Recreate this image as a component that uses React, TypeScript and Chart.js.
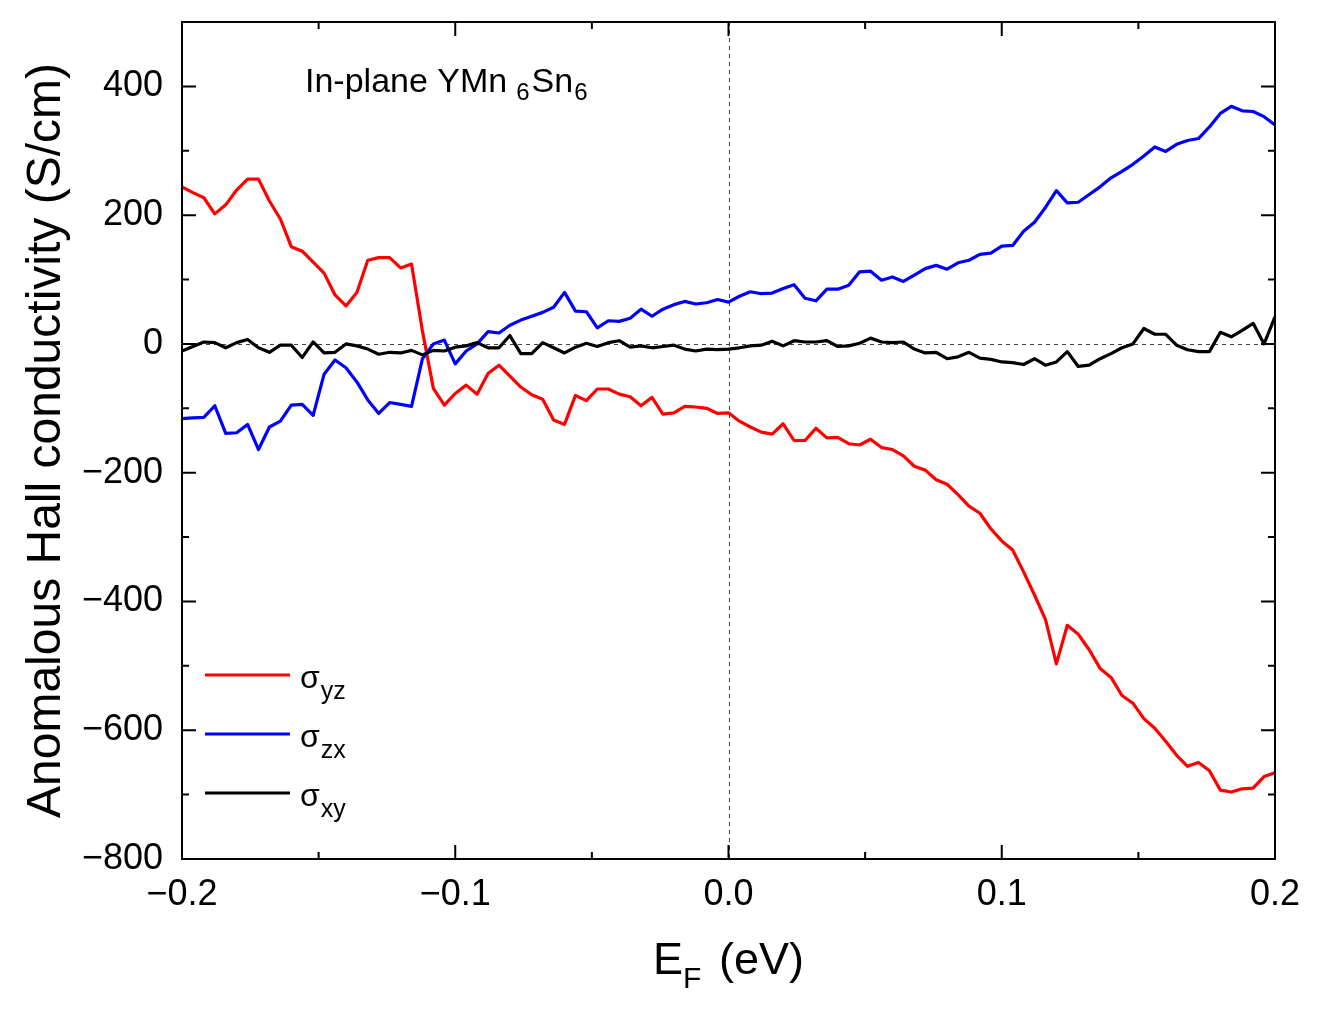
import React, { useEffect, useRef } from "react";
import { Chart, registerables } from "chart.js";

Chart.register(...registerables);

const FONT = "'Liberation Sans', Arial, Helvetica, sans-serif";

// Fermi energy grid (eV)
const energies = [
  -0.2, -0.196, -0.192, -0.188, -0.184, -0.18, -0.176, -0.172, -0.168, -0.164,
  -0.16, -0.156, -0.152, -0.148, -0.144, -0.14, -0.136, -0.132, -0.128, -0.124,
  -0.12, -0.116, -0.112, -0.108, -0.104, -0.1, -0.096, -0.092, -0.088, -0.084,
  -0.08, -0.076, -0.072, -0.068, -0.064, -0.06, -0.056, -0.052, -0.048, -0.044,
  -0.04, -0.036, -0.032, -0.028, -0.024, -0.02, -0.016, -0.012, -0.008, -0.004,
  0.0, 0.004, 0.008, 0.012, 0.016, 0.02, 0.024, 0.028, 0.032, 0.036,
  0.04, 0.044, 0.048, 0.052, 0.056, 0.06, 0.064, 0.068, 0.072, 0.076,
  0.08, 0.084, 0.088, 0.092, 0.096, 0.1, 0.104, 0.108, 0.112, 0.116,
  0.12, 0.124, 0.128, 0.132, 0.136, 0.14, 0.144, 0.148, 0.152, 0.156,
  0.16, 0.164, 0.168, 0.172, 0.176, 0.18, 0.184, 0.188, 0.192, 0.196,
  0.2,
];

// sigma_yz (S/cm)
const sigmaYZ = [
  244, 235, 227, 202, 216, 239, 256, 256, 222, 194,
  151, 144, 127, 110, 76, 59, 80, 130, 134, 134,
  118, 124, 20, -69, -95, -77, -64, -78, -46, -33,
  -50, -67, -79, -86, -118, -125, -80, -88, -70, -70,
  -78, -82, -96, -83, -109, -107, -97, -98, -100, -108,
  -107, -120, -129, -137, -140, -124, -150, -150, -131, -146,
  -145, -155, -157, -148, -161, -164, -174, -190, -196, -211,
  -218, -234, -252, -263, -287, -306, -320, -354, -390, -428,
  -497, -437, -451, -475, -504, -518, -546, -558, -582, -597,
  -617, -639, -656, -650, -663, -693, -696, -691, -690, -672,
  -666,
];

// sigma_zx (S/cm)
const sigmaZX = [
  -116, -115, -114, -96, -139, -138, -125, -164, -129, -120,
  -95, -94, -111, -47, -25, -37, -59, -87, -108, -91,
  -94, -97, -23, 0, 6, -31, -11, 0, 19, 17,
  29, 37, 43, 49, 57, 80, 51, 50, 25, 36,
  35, 40, 54, 43, 54, 61, 66, 62, 64, 69,
  65, 74, 81, 78, 79, 86, 92, 71, 67, 85,
  85, 91, 112, 113, 99, 104, 97, 107, 117, 122,
  116, 126, 130, 139, 141, 152, 153, 175, 189, 212,
  238, 219, 220, 232, 244, 258, 268, 279, 292, 306,
  299, 310, 316, 319, 337, 358, 369, 362, 361, 353,
  340,
];

// sigma_xy (S/cm)
const sigmaXY = [
  -11, -4, 3, 2, -6, 2, 7, -6, -13, -2,
  -2, -21, 3, -14, -13, 0, -3, -8, -16, -13,
  -14, -10, -17, -10, -11, -5, -3, 2, -6, -6,
  13, -15, -15, 2, -6, -14, -5, 1, -4, 2,
  5, -5, -3, -6, -4, -2, -8, -11, -8, -9,
  -8, -6, -3, -2, 4, -3, 5, 3, 3, 5,
  -4, -3, 1, 9, 3, 2, 3, -8, -14, -13,
  -23, -20, -13, -22, -24, -28, -29, -32, -23, -33,
  -28, -12, -35, -33, -23, -15, -6, 0, 24, 15,
  15, -2, -9, -12, -12, 18, 11, 21, 32, 0,
  42,
];

const seriesSubscripts = ["yz", "zx", "xy"];
const seriesColors = ["#ff0000", "#0000ff", "#000000"];

const xMajorTicks = [-0.2, -0.1, 0, 0.1, 0.2];
const xMinorTicks = [-0.15, -0.05, 0.05, 0.15];
const yMajorTicks = [-800, -600, -400, -200, 0, 200, 400];
const yMinorTicks = [-700, -500, -300, -100, 100, 300];

const xTitleMain = "E";
const xTitleSub = "F";
const xTitleUnit = "(eV)";
const yTitle = "Anomalous Hall conductivity (S/cm)";

const fmtX = (v: number) => {
  if (Math.abs(v) < 1e-9) return "0.0";
  return v < 0 ? "\u2212" + Math.abs(v).toFixed(1) : v.toFixed(1);
};
const fmtY = (v: number) => (v < 0 ? "\u2212" + Math.abs(v) : String(v));

const decor = {
  id: "decor",
  beforeDatasetsDraw(chart: any) {
    const { ctx, chartArea: a, scales } = chart;
    const x = scales.x;
    const y = scales.y;
    ctx.save();
    ctx.strokeStyle = "#444";
    ctx.lineWidth = 1;
    ctx.setLineDash([4, 4]);
    const y0 = Math.round(y.getPixelForValue(0)) + 0.5;
    ctx.beginPath();
    ctx.moveTo(a.left, y0);
    ctx.lineTo(a.right, y0);
    ctx.stroke();
    const x0 = Math.round(x.getPixelForValue(0)) + 0.5;
    ctx.beginPath();
    ctx.moveTo(x0, a.top);
    ctx.lineTo(x0, a.bottom);
    ctx.stroke();
    ctx.restore();
  },
  afterDatasetsDraw(chart: any) {
    const { ctx, chartArea: a, scales } = chart;
    const x = scales.x;
    const y = scales.y;
    ctx.save();
    // frame
    ctx.strokeStyle = "#000";
    ctx.lineWidth = 2;
    ctx.setLineDash([]);
    ctx.strokeRect(a.left, a.top, a.right - a.left, a.bottom - a.top);
    // ticks (inward, all sides)
    const drawX = (v: number, len: number) => {
      const px = x.getPixelForValue(v);
      ctx.beginPath();
      ctx.moveTo(px, a.bottom);
      ctx.lineTo(px, a.bottom - len);
      ctx.moveTo(px, a.top);
      ctx.lineTo(px, a.top + len);
      ctx.stroke();
    };
    const drawY = (v: number, len: number) => {
      const py = y.getPixelForValue(v);
      ctx.beginPath();
      ctx.moveTo(a.left, py);
      ctx.lineTo(a.left + len, py);
      ctx.moveTo(a.right, py);
      ctx.lineTo(a.right - len, py);
      ctx.stroke();
    };
    xMajorTicks.forEach((v) => drawX(v, 14));
    xMinorTicks.forEach((v) => drawX(v, 7));
    yMajorTicks.forEach((v) => drawY(v, 14));
    yMinorTicks.forEach((v) => drawY(v, 7));

    // legend
    ctx.fillStyle = "#000";
    ctx.textBaseline = "alphabetic";
    ctx.textAlign = "left";
    seriesSubscripts.forEach((sub, i) => {
      const ly = a.top + 653 + i * 59;
      ctx.strokeStyle = seriesColors[i];
      ctx.lineWidth = 3;
      ctx.beginPath();
      ctx.moveTo(a.left + 23, ly);
      ctx.lineTo(a.left + 108, ly);
      ctx.stroke();
      ctx.font = `32px ${FONT}`;
      const tx = a.left + 118;
      ctx.fillText("\u03c3", tx, ly + 13);
      const w = ctx.measureText("\u03c3").width;
      ctx.font = `25px ${FONT}`;
      ctx.fillText(sub, tx + w + 1, ly + 24);
    });

    // annotation
    ctx.font = `34px ${FONT}`;
    const ax = a.left + 123;
    const ab = a.top + 70;
    const p1 = "In-plane YMn";
    ctx.fillText(p1, ax, ab);
    let cx = ax + ctx.measureText(p1).width + 9;
    ctx.font = `24px ${FONT}`;
    ctx.fillText("6", cx, ab + 8);
    cx += ctx.measureText("6").width + 2;
    ctx.font = `34px ${FONT}`;
    ctx.fillText("Sn", cx, ab);
    cx += ctx.measureText("Sn").width + 1;
    ctx.font = `24px ${FONT}`;
    ctx.fillText("6", cx, ab + 8);

    // x title
    const mid = (a.left + a.right) / 2;
    const xb = a.bottom + 115;
    ctx.font = `45px ${FONT}`;
    const wE = ctx.measureText(xTitleMain).width;
    const wU = ctx.measureText(xTitleUnit).width;
    const total = 151;
    const sx = mid - total / 2;
    ctx.fillText(xTitleMain, sx, xb);
    ctx.fillText(xTitleUnit, sx + total - wU, xb);
    ctx.font = `30px ${FONT}`;
    ctx.fillText(xTitleSub, sx + wE, xb + 14);

    // y title
    ctx.save();
    ctx.translate(60, (a.top + a.bottom) / 2);
    ctx.rotate(-Math.PI / 2);
    ctx.font = `48px ${FONT}`;
    ctx.textAlign = "center";
    ctx.fillText(yTitle, 0, 0);
    ctx.restore();

    ctx.restore();
  },
};

export default function App() {
  const ref = useRef<HTMLCanvasElement>(null);

  useEffect(() => {
    const canvas = ref.current;
    if (!canvas) return;
    const series = [sigmaYZ, sigmaZX, sigmaXY];
    const chart = new Chart(canvas, {
      type: "line",
      data: {
        datasets: series.map((vals, i) => ({
          label: "\u03c3" + seriesSubscripts[i],
          data: energies.map((e, k) => ({ x: e, y: vals[k] })),
          borderColor: seriesColors[i],
          backgroundColor: seriesColors[i],
          borderWidth: 3.2,
          pointRadius: 0,
          tension: 0,
          fill: false,
          borderJoinStyle: "round" as const,
          order: 3 - i,
        })),
      },
      options: {
        responsive: false,
        devicePixelRatio: 1,
        animation: false,
        events: [],
        layout: { padding: { top: 22, right: 54, left: 0, bottom: 0 } },
        plugins: {
          legend: { display: false },
          tooltip: { enabled: false },
          title: { display: false },
        },
        scales: {
          x: {
            type: "linear",
            min: -0.2,
            max: 0.2,
            grid: { display: false, drawTicks: false },
            border: { display: false },
            afterBuildTicks: (scale: any) => {
              scale.ticks = xMajorTicks.map((v) => ({ value: v }));
            },
            afterFit: (scale: any) => {
              scale.height = 158;
              scale.paddingLeft = 0;
              scale.paddingRight = 0;
              scale.paddingTop = 0;
              scale.paddingBottom = 0;
            },
            ticks: {
              autoSkip: false,
              maxRotation: 0,
              padding: 14,
              color: "#000",
              font: { family: FONT, size: 36 },
              callback: (v: any) => fmtX(Number(v)),
            },
          },
          y: {
            type: "linear",
            min: -800,
            max: 500,
            grid: { display: false, drawTicks: false },
            border: { display: false },
            afterBuildTicks: (scale: any) => {
              scale.ticks = yMajorTicks.map((v) => ({ value: v }));
            },
            afterFit: (scale: any) => {
              scale.width = 182;
              scale.paddingLeft = 0;
              scale.paddingRight = 0;
              scale.paddingTop = 0;
              scale.paddingBottom = 0;
            },
            ticks: {
              autoSkip: false,
              padding: 19,
              color: "#000",
              font: { family: FONT, size: 36 },
              callback: (v: any) => fmtY(Number(v)),
            },
          },
        },
      },
      plugins: [decor],
    } as any);
    return () => chart.destroy();
  }, []);

  return (
    <div
      style={{
        position: "absolute",
        left: 0,
        top: 0,
        width: 1329,
        height: 1017,
        background: "#fff",
      }}
    >
      <canvas
        ref={ref}
        width={1329}
        height={1017}
        style={{ display: "block", width: 1329, height: 1017 }}
      />
    </div>
  );
}
